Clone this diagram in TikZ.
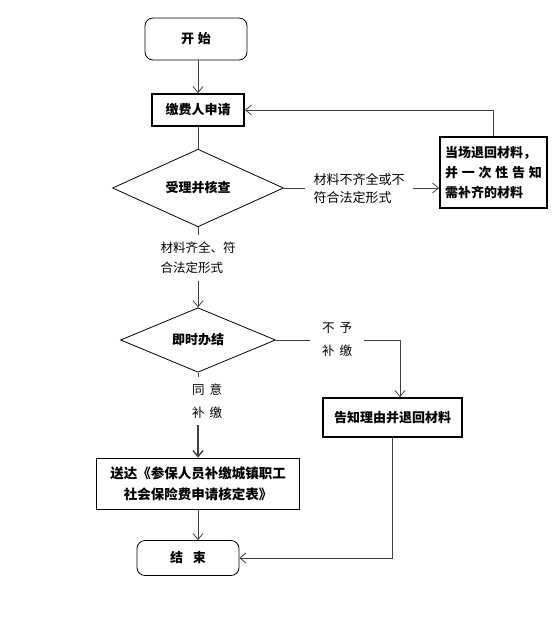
\documentclass[tikz,border=0pt]{standalone}
\usepackage{fontspec}
\setmainfont{Noto Sans CJK SC}
\usetikzlibrary{positioning,arrows.meta,shapes.geometric}

\begin{document}
\begin{tikzpicture}[x=1pt, y=-1pt, font=\fontsize{12.5}{20}\selectfont,
  conn/.style={black!75, line width=0.8pt},
  arr/.style={conn, -{Straight Barb[length=6pt,width=10pt]}},
  endbox/.style={draw, rounded corners=8pt, line width=0.8pt, inner sep=0pt,
                 font=\fontsize{13}{16}\selectfont\bfseries},
  stepbox/.style={draw, line width=1.8pt, inner sep=0pt, align=center,
                  font=\fontsize{13}{20}\selectfont\bfseries},
  testbox/.style={draw, diamond, line width=0.8pt, inner sep=0pt,
                  font=\fontsize{13}{16}\selectfont\bfseries},
  tag/.style={align=left, inner xsep=8pt, inner ysep=7pt}]
% pixel grid of the reference: x to the right, y downwards
\useasboundingbox (0,0) rectangle (558,640);

% main column
\node[endbox, minimum width=102pt, minimum height=42pt] (start) at (196,39) {开\hspace{4pt}始};
\node[stepbox, minimum width=92pt, minimum height=32pt] (apply) at (198,110) {缴费人申请};
\node[testbox, minimum width=171pt, minimum height=66pt] (check) at (198,188) {受理并核查};
\node[tag] (lblcomplete) at (198,258) {材料齐全、符\\合法定形式};
\node[testbox, minimum width=155pt, minimum height=56pt] (settle) at (198,340) {即时办结};
\node[tag, font=\fontsize{12.5}{23}\selectfont, inner ysep=6pt] (lblagree) at (207,401) {同\hspace{5pt}意\\补\hspace{5pt}缴};
\node[stepbox, minimum width=203pt, minimum height=51pt, font=\fontsize{13.5}{21}\selectfont\bfseries]
  (sendform) at (198,484) {送达《参保人员补缴城镇职工\\社会保险费申请核定表》};
\node[endbox, minimum width=102pt, minimum height=35pt] (finish) at (188,558) {结\hspace{10pt}束};

% side branches
\node[tag, font=\fontsize{13}{18}\selectfont] (lblincomplete) at (359,189) {材料不齐全或不\\符合法定形式};
\node[stepbox, minimum width=107pt, minimum height=71pt, align=left] (returnmat) at (493.5,172.5)
  {当场退回材料，\\\makebox[97pt][s]{并 一 次 性 告 知}\\需补齐的材料};
\node[tag, font=\fontsize{12.5}{23}\selectfont, inner xsep=12pt] (lblrefuse) at (337,340) {不\hspace{5pt}予\\补\hspace{5pt}缴};
\node[stepbox, minimum width=139pt, minimum height=39pt] (reason) at (392.5,417.5) {告知理由并退回材料};
\coordinate (refusebend) at (400,340);

% connectors
\draw[arr] (apply.north |- start.south) -- (apply.north);
\draw[conn] (apply.south) -- (check.north);
\draw[conn] (check.south) -- (lblcomplete.north);
\draw[arr] (lblcomplete.south) -- (settle.north);
\draw[conn] (settle.south) -- (settle.south |- lblagree.north);
\draw[arr, line width=1.4pt] (settle.south |- lblagree.south) -- (sendform.north);
\draw[arr] (sendform.south) -- (sendform.south |- finish.north);
\draw[conn] (check.east) -- (check.east -| lblincomplete.west);
\draw[arr] (check.east -| lblincomplete.east) -- (check.east -| returnmat.west);
\draw[arr] (returnmat.north) |- (apply.east);
\draw[conn] (settle.east) -- (settle.east -| lblrefuse.west);
\draw[arr] (settle.east -| lblrefuse.east) -- (refusebend) -- (refusebend |- reason.north);
\draw[arr] (reason.south) |- (finish.east);
\end{tikzpicture}
\end{document}
